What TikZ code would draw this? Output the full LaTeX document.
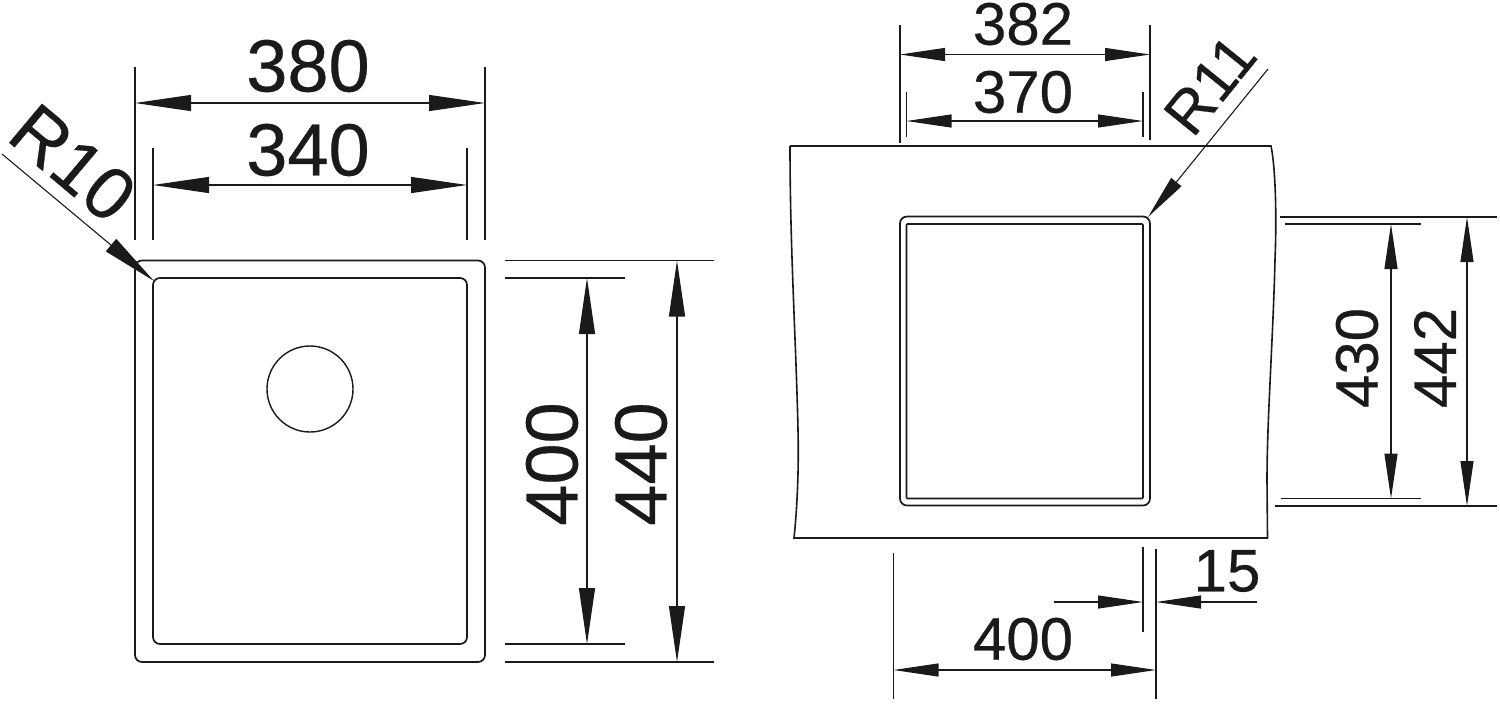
\documentclass[tikz,border=0pt]{standalone}
\usepackage{fontspec}
\newfontfamily\dimfont[FakeBold=0.4]{Liberation Sans}
\usetikzlibrary{arrows.meta}
\definecolor{ink}{HTML}{1A1A1A}
\tikzset{
dimline/.style={draw=ink, line width=0.55pt},
outline/.style={draw=ink, line width=0.85pt, rounded corners=3.5pt},
bigdim/.style={dimline, {Triangle[length=28pt,width=8pt]}-{Triangle[length=28pt,width=8pt]}},
smalldim/.style={dimline, {Triangle[length=22.5pt,width=6.5pt]}-{Triangle[length=22.5pt,width=6.5pt]}},
bigtip/.style={dimline, -{Triangle[length=28pt,width=8pt]}},
smalltip/.style={dimline, -{Triangle[length=22.5pt,width=6.5pt]}},
biglabel/.style={text=ink, inner sep=0pt, font=\fontsize{37}{37}\dimfont},
smalllabel/.style={text=ink, inner sep=0pt, font=\fontsize{30}{30}\dimfont}
}
\begin{document}
\begin{tikzpicture}[x=0.5pt,y=-0.5pt]
  \useasboundingbox (0,0) rectangle (1500,703);

  % left sink
  \draw[outline] (135,260.5) rectangle (485,662);
  \draw[outline] (153,278) rectangle (467,644);
  \draw[dimline, line width=0.7pt] (310,389) circle [radius=43];
  \draw[dimline] (135,67) -- (135,240);
  \draw[dimline] (485,67) -- (485,240);
  \draw[dimline] (153,148) -- (153,240);
  \draw[dimline] (467,148) -- (467,240);
  \draw[dimline] (505,260.5) -- (714,260.5);
  \draw[dimline] (505,662) -- (714,662);
  \draw[dimline] (505,278) -- (625,278);
  \draw[dimline] (505,644) -- (625,644);
  \draw[bigdim] (135,103) -- (485,103);
  \draw[bigdim] (153,185) -- (467,185);
  \draw[bigdim] (587,278) -- (587,644);
  \draw[bigdim] (677,260.5) -- (677,662);
  \draw[bigtip] (2,154) -- (154,281);
  \node[biglabel] (w380) at (308,66) {380};
  \node[biglabel] (w340) at (308,150) {340};
  \node[biglabel, rotate=90] (h400) at (552,464) {400};
  \node[biglabel, rotate=90] (h440) at (641,464) {440};
  \node[biglabel, rotate=-40] (r10) at (73,163) {R10};

  % worktop
  \draw[dimline, line width=0.8pt] (790,146) -- (1271,146)
    .. controls (1275,165) and (1277,210) .. (1275,260)
    .. controls (1273,340) and (1267,420) .. (1267,480) -- (1267.5,538) -- (794,538)
    .. controls (797,510) and (799,470) .. (798,430)
    .. controls (796,340) and (790,250) .. (790,146);

  % right sink
  \draw[outline] (900,216.5) rectangle (1150,505.5);
  \draw[outline, rounded corners=0.5pt] (906.5,224) rectangle (1143,498.5);
  \draw[dimline] (900,25) -- (900,143);
  \draw[dimline] (1150,25) -- (1150,140);
  \draw[dimline] (906.5,92) -- (906.5,137);
  \draw[dimline] (1143,92) -- (1143,137);
  \draw[dimline] (1285,224) -- (1421,224);
  \draw[dimline] (1281,498.5) -- (1421,498.5);
  \draw[dimline] (1280,217) -- (1497,217);
  \draw[dimline] (1275,506) -- (1497,506);
  \draw[dimline] (893.5,553) -- (893.5,699);
  \draw[dimline] (1156,549) -- (1156,699);
  \draw[dimline] (1143,547) -- (1143,632);
  \draw[smalldim] (900,54.5) -- (1150,54.5);
  \draw[smalldim] (906.5,121) -- (1143,121);
  \draw[smalldim] (1391,224) -- (1391,498.5);
  \draw[smalldim] (1467,217) -- (1467,506);
  \draw[smalldim] (893.5,670) -- (1156,670);
  \draw[smalltip] (1054,602) -- (1143,602);
  \draw[smalltip] (1257,602) -- (1156,602);
  \draw[smalltip] (1268,69) -- (1148,217);
  \node[smalllabel] (w382) at (1023,24) {382};
  \node[smalllabel] (w370) at (1023,92) {370};
  \node[smalllabel, rotate=90] (h430) at (1357,358) {430};
  \node[smalllabel, rotate=90] (h442) at (1435,358) {442};
  \node[smalllabel] (w400) at (1023,639) {400};
  \node[smalllabel] (w15) at (1227,571) {15};
  \node[smalllabel, rotate=51] (r11) at (1210,85) {R11};
\end{tikzpicture}
\end{document}
